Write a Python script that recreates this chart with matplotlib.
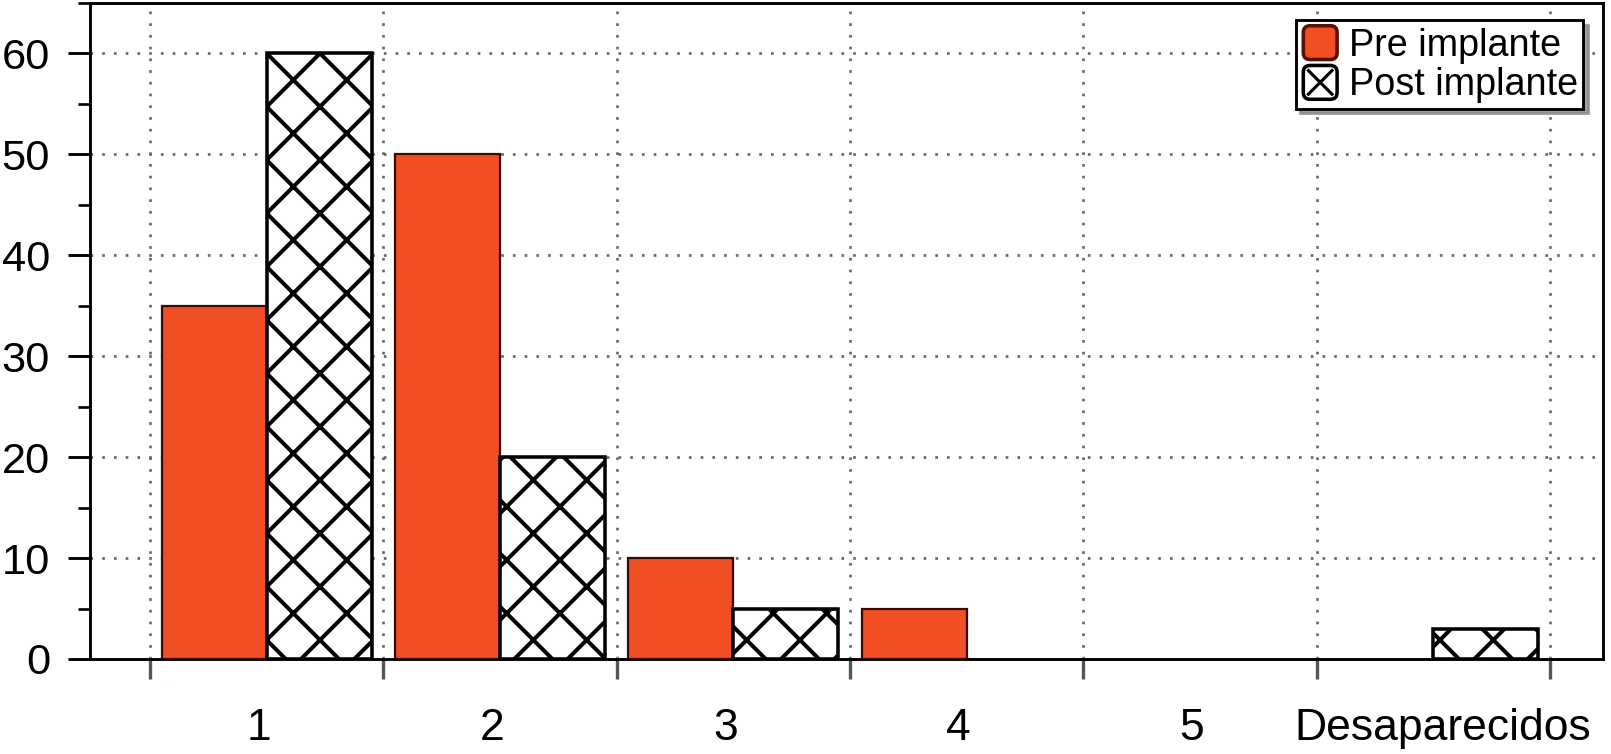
import matplotlib
matplotlib.use("Agg")
import matplotlib.pyplot as plt
from matplotlib.patches import Patch, FancyBboxPatch
from matplotlib.lines import Line2D
from matplotlib.legend_handler import HandlerBase
from matplotlib.ticker import MultipleLocator, FixedLocator
import matplotlib.transforms as mtransforms
import numpy as np

categories = ['1', '2', '3', '4', '5', 'Desaparecidos']
pre_values = [35, 50, 10, 5, 0, 0]
post_values = [60, 20, 5, 0, 0, 3]
series_labels = ['Pre implante', 'Post implante']

plt.rcParams['font.family'] = ['Liberation Sans', 'DejaVu Sans']
plt.rcParams['hatch.linewidth'] = 1.8

DPI = 160
fig = plt.figure(figsize=(1611 / DPI, 754 / DPI), dpi=DPI)
ax = fig.add_axes([90 / 1611, 1 - 659 / 754, (1603 - 90) / 1611, (659 - 3) / 754])

x = np.arange(1, len(categories) + 1)
w = 0.45
orange = '#F04E23'
pre_lw = [1.0 if v > 0 else 0 for v in pre_values]
post_lw = [1.6 if v > 0 else 0 for v in post_values]
ax.bar(x - w / 2, pre_values, width=w, color=orange, edgecolor='#3a0a00', linewidth=pre_lw, zorder=3)
bars_post = ax.bar(x + w / 2, post_values, width=w, color='white', edgecolor='black', hatch='x',
                   linewidth=post_lw, zorder=3)

ax.set_xlim(0.243, 6.727)
ax.set_ylim(0, 65)

ax.xaxis.set_major_locator(FixedLocator(np.arange(0.5, len(categories) + 1, 1.0)))
ax.xaxis.set_minor_locator(FixedLocator(x))
ax.set_xticklabels([], minor=False)
ax.set_xticklabels(categories, minor=True)
ax.tick_params(axis='x', which='major', direction='out', length=9, width=1.5, color='#555555')
ax.tick_params(axis='x', which='minor', length=0, pad=22, labelsize=20)

label_shift_px = [-8, -8, -8, -8, -8, 9]
for lbl, dx in zip(ax.get_xticklabels(minor=True), label_shift_px):
    lbl.set_transform(lbl.get_transform() + mtransforms.ScaledTranslation(dx / DPI, 0, fig.dpi_scale_trans))

ax.yaxis.set_major_locator(MultipleLocator(10))
ax.yaxis.set_minor_locator(MultipleLocator(5))
ax.tick_params(axis='y', which='major', direction='out', length=10, width=1.3, pad=8, labelsize=19.5)
ax.tick_params(axis='y', which='minor', direction='out', length=5.5, width=1.2)

ax.grid(True, which='major', color='#666666', linestyle=(0, (1, 3.4)), linewidth=1.2, zorder=0)
ax.set_axisbelow(True)

for s in ax.spines.values():
    s.set_linewidth(1.3)
    s.set_color('black')


class RoundBoxHandler(HandlerBase):
    def __init__(self, face, edge, cross=False):
        super().__init__()
        self.face = face
        self.edge = edge
        self.cross = cross

    def create_artists(self, legend, orig_handle, xdescent, ydescent, width, height, fontsize, trans):
        s = min(width, height)
        x0 = -xdescent + (width - s) / 2
        y0 = -ydescent + (height - s) / 2
        r = s * 0.2
        box = FancyBboxPatch((x0 + r, y0 + r), s - 2 * r, s - 2 * r,
                             boxstyle=f"round,pad={r}", facecolor=self.face,
                             edgecolor=self.edge, linewidth=1.6, transform=trans)
        arts = [box]
        if self.cross:
            m = s * 0.15
            arts.append(Line2D([x0 + m, x0 + s - m], [y0 + m, y0 + s - m], color='black', lw=1.4, transform=trans))
            arts.append(Line2D([x0 + m, x0 + s - m], [y0 + s - m, y0 + m], color='black', lw=1.4, transform=trans))
        return arts


h_pre = Patch(facecolor=orange)
h_post = Patch(facecolor='white')
leg = ax.legend([h_pre, h_post], series_labels, loc='upper right', bbox_to_anchor=(0.987, 0.974),
                borderaxespad=0, fontsize=17, frameon=True, fancybox=False, shadow={'color': '#888888', 'alpha': 0.8},
                handlelength=1.0, handleheight=1.0, handletextpad=0.25, borderpad=0.15,
                labelspacing=0.05,
                handler_map={h_pre: RoundBoxHandler(orange, '#5a1000'),
                             h_post: RoundBoxHandler('white', 'black', cross=True)})
leg.get_frame().set_edgecolor('black')
leg.get_frame().set_linewidth(1.3)

fig.savefig('out.png', dpi=DPI)
